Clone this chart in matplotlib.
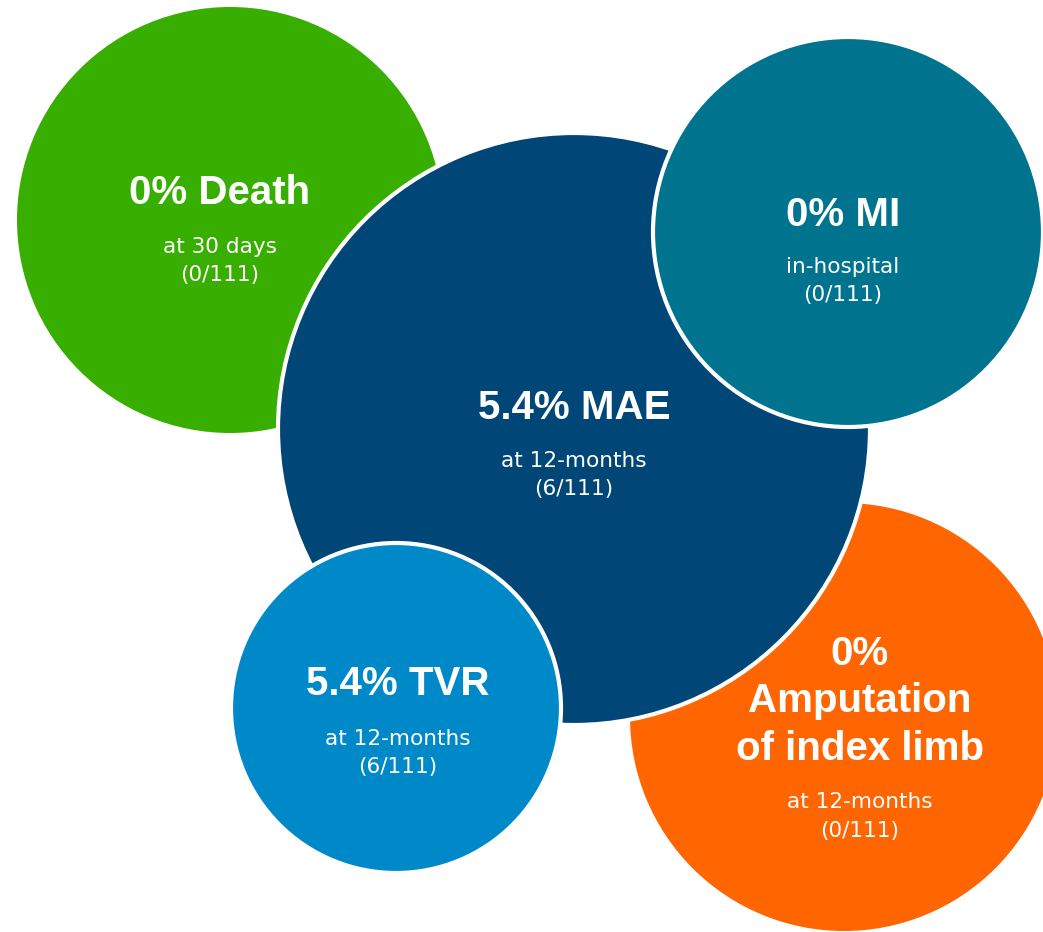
import matplotlib
matplotlib.use("Agg")
import matplotlib.pyplot as plt
from matplotlib.patches import Circle

# Outcome figures
outcomes = ["Death", "Amputation\nof index limb", "MAE", "MI", "TVR"]
rates = [0.0, 0.0, 5.4, 0.0, 5.4]
events = [0, 0, 6, 0, 6]
patients = [111, 111, 111, 111, 111]
timeframes = ["at 30 days", "at 12-months", "at 12-months", "in-hospital", "at 12-months"]
colors = ["#38ae00", "#ff6500", "#004677", "#00748f", "#0089c9"]

# Bubble layout (pixel space), in drawing order
centers = [(230, 220), (844, 717), (574, 429), (848, 232), (396, 708)]
radii = [213, 214, 296, 195, 165]
outlined = [False, False, True, True, True]
# text anchor: x centre and baseline of first title line / first sub line
text_x = [220, 860, 574, 843, 398]
title_base = [204, 665, 419, 226, 695]
sub_base = [253, 808, 467, 273, 745]

TITLE_FONT = dict(family=["Liberation Sans", "DejaVu Sans"], fontweight="bold", fontsize=29)
SUB_FONT = dict(family=["DejaVu Sans"], fontsize=15.6)
TITLE_STEP = 47.5
SUB_STEP = 28.5

W, H = 1043, 932
fig = plt.figure(figsize=(W / 100, H / 100), dpi=100)
ax = fig.add_axes([0, 0, 1, 1])
ax.set_xlim(0, W)
ax.set_ylim(H, 0)
ax.set_aspect("equal")
ax.axis("off")

for i, name in enumerate(outcomes):
    ax.add_patch(Circle(centers[i], radii[i], facecolor=colors[i],
                        edgecolor="white" if outlined[i] else "none",
                        linewidth=3 if outlined[i] else 0, zorder=i + 1))

    rate = f"{rates[i]:g}%"
    if "\n" in name:
        title_lines = [rate] + name.split("\n")
    else:
        title_lines = [f"{rate} {name}"]
    for k, line in enumerate(title_lines):
        ax.text(text_x[i], title_base[i] + k * TITLE_STEP, line,
                ha="center", va="baseline", color="white", zorder=10,
                **TITLE_FONT)

    sub_lines = [timeframes[i], f"({events[i]}/{patients[i]})"]
    for k, line in enumerate(sub_lines):
        ax.text(text_x[i], sub_base[i] + k * SUB_STEP, line,
                ha="center", va="baseline", color="white", zorder=10,
                **SUB_FONT)

fig.savefig("out.png", dpi=100, facecolor="white")
